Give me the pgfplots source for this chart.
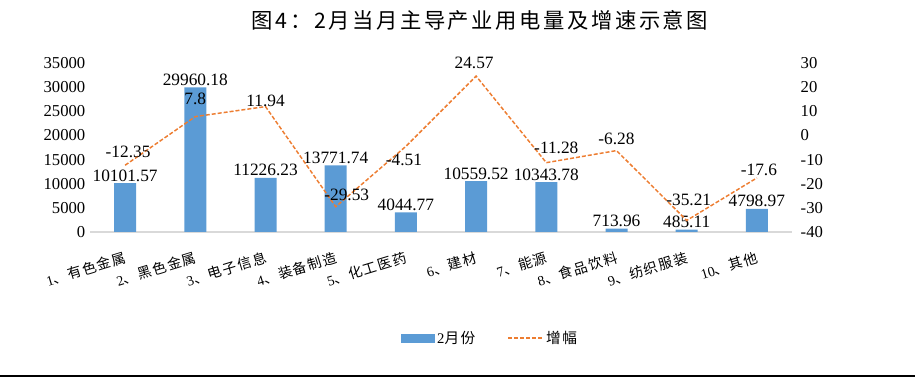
\documentclass[border=0pt]{standalone}
\usepackage{pgfplots}
\pgfplotsset{compat=1.18}
\usepackage{pgfplotstable}
\usepackage{fontspec}
\setmainfont{Liberation Serif}
\newfontfamily\cjk{Noto Sans CJK SC}
\newfontfamily\cjkls[LetterSpace=10]{Noto Sans CJK SC}
\newfontfamily\cjkt[LetterSpace=12]{Noto Sans CJK SC}
\definecolor{barblue}{HTML}{5B9BD5}
\definecolor{lineorange}{HTML}{ED7D31}

\pgfplotstableread{
x y lab
0 10101.57 10101.57
1 29960.18 29960.18
2 11226.23 11226.23
3 13771.74 13771.74
4 4044.77 4044.77
5 10559.52 10559.52
6 10343.78 10343.78
7 713.96 713.96
8 485.11 485.11
9 4798.97 4798.97
}\bars

\pgfplotstableread{
x y dx dy lab
0 -12.35 3 13 -12.35
1 7.8 0 18 7.8
2 11.94 0 6 11.94
3 -29.53 11 12 -29.53
4 -4.51 -2 -14 -4.51
5 24.57 -2 13 24.57
6 -11.28 10 15 -11.28
7 -6.28 0 12 -6.28
8 -35.21 2 21 -35.21
9 -17.6 2 8 -17.6
}\growth

\begin{document}
\begin{tikzpicture}
\useasboundingbox (0,0) rectangle (686.25pt,282.75pt);
\draw[line width=1.1pt] (0,0.6pt) -- (686.25pt,0.6pt);
\node[font=\cjkt\fontsize{16}{18}\selectfont] at (360pt,267.75pt) {图4：2月当月主导产业用电量及增速示意图};

\begin{axis}[
  at={(67.5pt,108.75pt)}, anchor=south west,
  width=526.5pt, height=126.75pt, scale only axis,
  xmin=-0.5, xmax=9.5, ymin=0, ymax=35000,
  ytick={0,5000,...,35000},
  xtick={0,...,9},
  xticklabels={{1\cjkls 、有色金属},{2\cjkls 、黑色金属},{3\cjkls 、电子信息},{4\cjkls 、装备制造},{5\cjkls 、化工医药},{6\cjkls 、建材},{7\cjkls 、能源},{8\cjkls 、食品饮料},{9\cjkls 、纺织服装},{10\cjkls 、其他}},
  axis x line*=bottom, axis y line*=left,
  axis line style={-},
  x axis line style={draw=black!15, line width=0.8pt},
  y axis line style={draw=none},
  major tick length=0pt,
  scaled y ticks=false,
  /pgf/number format/assume math mode=true,
  yticklabel style={/pgf/number format/1000 sep={}, font=\fontsize{12.5}{14}\selectfont},
  xticklabel style={font=\fontsize{10.5}{12}\selectfont, yshift=-14pt, xshift=-1pt, rotate=17, anchor=north east, inner sep=0pt},
]
\addplot[ybar, bar width=16.5pt, fill=barblue, draw=none,
  nodes near coords, point meta=explicit symbolic,
  nodes near coords style={font=\fontsize{13}{14}\selectfont, text=black, inner sep=1pt}]
  table[x=x,y=y,meta=lab]{\bars};
\end{axis}

\begin{axis}[
  at={(67.5pt,108.75pt)}, anchor=south west,
  width=526.5pt, height=126.75pt, scale only axis,
  xmin=-0.5, xmax=9.5, ymin=-40, ymax=30,
  ytick={-40,-30,...,30},
  axis x line=none, axis y line*=right,
  axis line style={-},
  y axis line style={draw=none},
  major tick length=0pt,
  /pgf/number format/assume math mode=true,
  yticklabel style={font=\fontsize{12.5}{14}\selectfont, xshift=3pt},
  legend style={at={(0.57,-0.627)}, anchor=center, draw=none, fill=none,
    legend columns=2, font=\fontsize{11}{13}\selectfont,
    /tikz/every even column/.append style={column sep=22pt}},
]
\addlegendimage{legend image code/.code={\fill[barblue] (0pt,-3pt) rectangle (25pt,3pt);}}
\addlegendentry{2\cjkls 月份}
\addplot[lineorange, dash pattern=on 3pt off 1.5pt, line width=1.1pt, mark=none,
  legend image code/.code={\draw[lineorange, dash pattern=on 3pt off 1.5pt, line width=1.1pt] (0pt,0pt) -- (26pt,0pt);}]
  table[x=x,y=y]{\growth};
\addlegendentry{\cjkls 增幅}
\addplot[draw=none, mark=none, forget plot,
  nodes near coords, point meta=explicit symbolic,
  visualization depends on={\thisrow{dx}\as\dx},
  visualization depends on={\thisrow{dy}\as\dy},
  nodes near coords style={anchor=center, xshift=\dx*0.75pt, yshift=\dy*0.75pt, text=black, font=\fontsize{13}{14}\selectfont}]
  table[x=x,y=y,meta=lab]{\growth};
\end{axis}
\end{tikzpicture}
\end{document}
